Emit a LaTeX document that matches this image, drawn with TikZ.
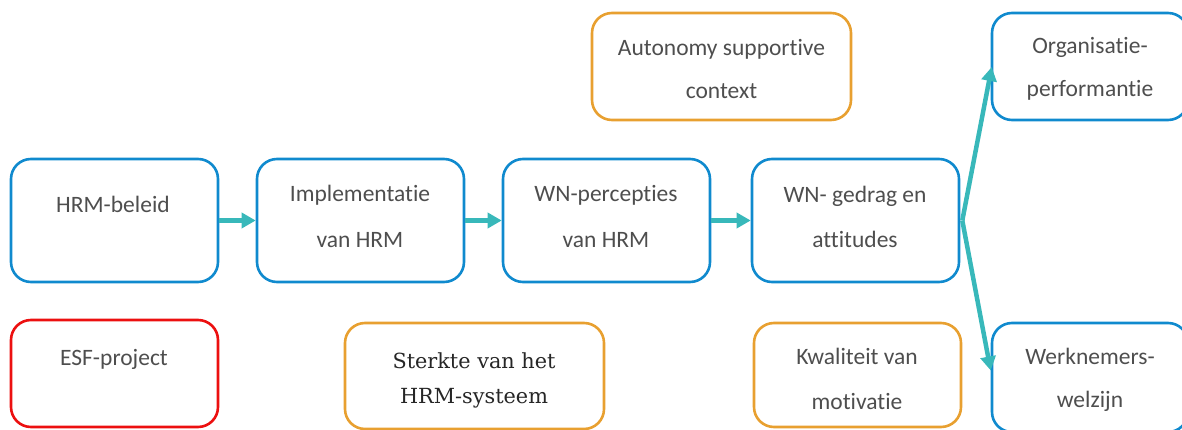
\documentclass[tikz,border=0pt]{standalone}
\usepackage{fontspec}
\setmainfont{Carlito}[RawFeature={-liga}]
\newfontfamily\slabfont{DejaVu Serif}
\usetikzlibrary{arrows.meta,calc}
\definecolor{boxblue}{RGB}{16,138,206}
\definecolor{boxorange}{RGB}{232,160,48}
\definecolor{boxred}{RGB}{236,16,16}
\definecolor{flowteal}{RGB}{56,184,186}
\definecolor{txtgray}{RGB}{78,78,78}
\tikzset{
  box/.style={draw, line width=2.6pt, rounded corners=20pt, inner sep=0pt,
    minimum width=#1},
  box/.default=207pt,
  bluebox/.style={box=#1, draw=boxblue},
  bluebox/.default=207pt,
  orangebox/.style={box=#1, draw=boxorange},
  orangebox/.default=207pt,
  redbox/.style={box=#1, draw=boxred},
  redbox/.default=207pt,
  lbl/.style={text=txtgray, align=center, inner sep=0pt,
    font=\fontsize{23.5}{45}\selectfont},
  lbltop/.style={lbl, font=\fontsize{23.5}{43}\selectfont},
  lblslab/.style={text=black!85, align=center, inner sep=0pt,
    font=\slabfont\fontsize{20.8}{35}\selectfont},
  flow/.style={draw=flowteal, line width=4.5pt,
    -{Triangle[length=14pt,width=15pt]}},
}
\begin{document}
\begin{tikzpicture}[x=1pt,y=-1pt]
\useasboundingbox (0,0) rectangle (1182,430);
\clip (0,0) rectangle (1182,430);

% main chain
\node[bluebox, minimum height=123pt] (beleid) at (114.5,220.5) {};
\node[bluebox, minimum height=123pt] (impl)   at (360.5,220.5) {};
\node[bluebox, minimum height=123pt] (perc)   at (606.5,220.5) {};
\node[bluebox, minimum height=123pt] (gedrag) at (855.5,220.5) {};

% outcomes
\node[bluebox=196pt, minimum height=107pt] (org)     at (1090,66.5) {};
\node[bluebox=196pt, minimum height=109pt] (welzijn) at (1090,377.5) {};

% context boxes
\node[orangebox=259pt, minimum height=107pt] (auton)   at (721.5,66.5) {};
\node[redbox, minimum height=107pt]          (esf)     at (114.5,373.5) {};
\node[orangebox=259pt, minimum height=106pt] (sterkte) at (474.5,376) {};
\node[orangebox, minimum height=104pt]       (kwal)    at (857.5,375) {};

% labels
\node[lbl] (tbeleid) at (113,204) {HRM-beleid};
\node[lbl, font=\fontsize{23.5}{46}\selectfont] (timpl) at (360,216.5) {Implementatie\\van HRM};
\node[lbl, font=\fontsize{23.5}{46}\selectfont] (tperc) at (606,216.5) {WN-percepties\\van HRM};
\node[lbl] (tgedrag) at (855,217) {WN- gedrag en\\attitudes};
\node[lbltop] (torg) at (1090,69) {Organisatie-\\performantie};
\node[lbltop] (tauton) at (721.5,69) {Autonomy supportive\\context};
\node[lbltop] (twelzijn) at (1090,380) {Werknemers-\\welzijn};
\node[lbl] (tesf) at (114,359.5) {ESF-project};
\node[lblslab] (tsterkte) at (474,380.5) {Sterkte van het\\HRM-systeem};
\node[lbl] (tkwal) at (857,379) {Kwaliteit van\\motivatie};

% connectors
\draw[flow] (beleid.east) -- (impl.west);
\draw[flow] (impl.east) -- (perc.west);
\draw[flow] (perc.east) -- (gedrag.west);
\coordinate (split) at ($(gedrag.east)+(2,0)$);
\draw[flow] (split) -- ($(org.west)+(1,0.5)$);
\draw[flow] (split) -- ($(welzijn.west)+(0,-7)$);
\end{tikzpicture}
\end{document}
